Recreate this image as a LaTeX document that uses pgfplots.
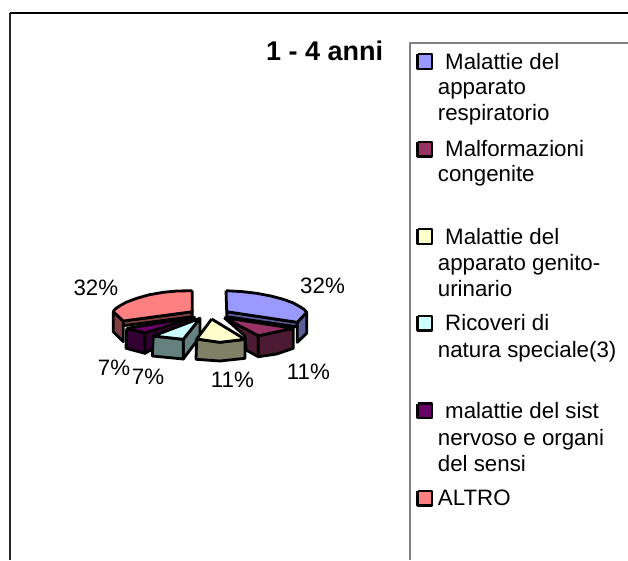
\documentclass[border=0pt]{standalone}
\usepackage{pgfplots}
\pgfplotsset{compat=1.18}
\usepackage{fontspec}
\setmainfont{Liberation Sans}
\definecolor{bluetop}{HTML}{9999FF}\definecolor{blueside}{HTML}{5C5C99}
\definecolor{martop}{HTML}{993366}\definecolor{marside}{HTML}{4D1A33}
\definecolor{yeltop}{HTML}{FFFFCC}\definecolor{yelside}{HTML}{808066}
\definecolor{cyatop}{HTML}{CCFFFF}\definecolor{cyaside}{HTML}{668080}
\definecolor{purtop}{HTML}{660066}\definecolor{purside}{HTML}{330033}
\definecolor{redtop}{HTML}{FF8080}\definecolor{redside}{HTML}{804040}
\newcommand{\lab}[3]{\node[anchor=base west,inner sep=0pt,font=\fontsize{22.3}{26}\selectfont] at (axis cs:#1,#2) {#3};}
\begin{document}
\begin{tikzpicture}
\begin{axis}[scale only axis,width=628pt,height=560pt,xmin=0,xmax=628,ymin=0,ymax=560,y dir=reverse,axis lines=none,
  clip=true]
\pgfplotsset{every axis plot/.append style={line width=2.8pt,draw=black,line join=round,mark=none}}
\fill[white] (rel axis cs:0,0) rectangle (rel axis cs:1,1);
\path[use as bounding box] (rel axis cs:0,0) rectangle (rel axis cs:1,1);
% frame
\addplot[draw=black!85,line width=2pt,forget plot] coordinates {(9.5,560) (9.5,12.5)};
\addplot[draw=black,line width=2pt,forget plot] coordinates {(9.5,12.5) (628,12.5)};
\addplot[draw=gray,line width=2pt,forget plot] coordinates {(410,560) (410,43) (628,43)};
% red slice
\addplot[fill=redside] coordinates {(113.3,311.7) (113.3,331.7) (123.3,341.7) (123.3,321) (113.3,311.7)};
\addplot[fill=redside] coordinates {(123.3,321) (192.3,311.7) (192.3,316.7) (123.3,325.7) (123.3,321)};
\addplot[fill=redtop] coordinates {(192.3,290.7) (177,291) (163.3,292.3) (149,294.8) (136.7,298.3) (126,302.3) (118.3,306.7) (114.5,309.7) (113.3,311.7) (123.3,321) (192.3,311.7) (192.3,290.7)};
% purple slice
\addplot[fill=purside] coordinates {(126.7,328.3) (126,348.3) (145,353.3) (145,333) (126.7,328.3)};
\addplot[fill=purside] coordinates {(145,333) (194.3,317.3) (194.3,325) (145,353.3) (145,333)};
\addplot[fill=purtop] coordinates {(126.7,328.3) (194.3,317.3) (145,333) (126.7,328.3)};
% cyan slice
\addplot[fill=cyaside] coordinates {(183.3,339.3) (200,318.3) (200,336.7) (183.3,359) (183.3,339.3)};
\addplot[fill=cyaside] coordinates {(153.3,336) (183.3,339.3) (183.3,359) (152.3,356) (153.3,336)};
\addplot[fill=cyatop] coordinates {(200,318.3) (153.3,336) (183.3,339.3) (200,318.3)};
% blue slice
\addplot[fill=blueside] coordinates {(306.7,312.3) (306.7,333.3) (297.3,342.3) (297.3,322.3) (306.7,312.3)};
\addplot[fill=blueside] coordinates {(226.7,311.7) (297.3,322.3) (296.7,326.7) (226.7,316.7) (226.7,311.7)};
\addplot[fill=bluetop] coordinates {(226,290.7) (242,291.6) (256.7,293.3) (271,296) (283.3,299.3) (293,302.8) (300,306.7) (304.5,309.7) (306.7,312.3) (297.3,322.3) (226.7,311.7) (226,290.7)};
% maroon slice
\addplot[fill=marside] coordinates {(224.3,317.7) (258.3,335.7) (258.3,356.7) (246,350) (245,336) (224.3,317.7)};
\addplot[fill=marside] coordinates {(258.3,335.7) (293.3,328.3) (293.3,348.3) (276.7,354) (258.3,356.7) (258.3,335.7)};
\addplot[fill=martop] coordinates {(224.3,317.7) (293.3,328.3) (258.3,335.7) (224.3,317.7)};
% yellow slice
\addplot[fill=yelside] coordinates {(196.7,339) (220,342.3) (245,339.3) (245,358.3) (220,361) (196,359.3) (196.7,339)};
\addplot[fill=yeltop] coordinates {(211.7,319) (196.7,339) (220,342.3) (245,339.3) (211.7,319)};
% legend swatches
\addplot[fill=bluetop] coordinates {(417.5,54) (432,54) (432,69) (417.5,69) (417.5,54)};
\addplot[fill=martop] coordinates {(417.5,142) (432,142) (432,156.5) (417.5,156.5) (417.5,142)};
\addplot[fill=yeltop] coordinates {(417.5,229) (432,229) (432,244) (417.5,244) (417.5,229)};
\addplot[fill=cyatop] coordinates {(417.5,316) (432,316) (432,330.5) (417.5,330.5) (417.5,316)};
\addplot[fill=purtop] coordinates {(417.5,403.5) (432,403.5) (432,418) (417.5,418) (417.5,403.5)};
\addplot[fill=redtop] coordinates {(417.5,491) (432,491) (432,505.5) (417.5,505.5) (417.5,491)};
% texts
\node[anchor=base west,inner sep=0pt,font=\fontsize{27}{30}\selectfont\bfseries] at (axis cs:266,60) {1 - 4 anni};
\lab{73.3}{295}{32\%}
\lab{300}{293.3}{32\%}
\lab{97.7}{375.7}{7\%}
\lab{131.7}{384}{7\%}
\lab{210.7}{387.7}{11\%}
\lab{286.7}{379.3}{11\%}
\lab{445}{69.3}{Malattie del}
\lab{437.7}{94.3}{apparato}
\lab{437.7}{120.7}{respiratorio}
\lab{445}{156}{Malformazioni}
\lab{437.7}{181.7}{congenite}
\lab{445}{244}{Malattie del}
\lab{437.7}{270}{apparato genito-}
\lab{437.7}{296}{urinario}
\lab{445}{330.7}{Ricoveri di}
\lab{437.7}{357}{natura speciale(3)}
\lab{445}{418}{malattie del sist}
\lab{437.7}{445}{nervoso e organi}
\lab{437.7}{471}{del sensi}
\lab{437.7}{505.7}{ALTRO}
\end{axis}
\end{tikzpicture}
\end{document}
